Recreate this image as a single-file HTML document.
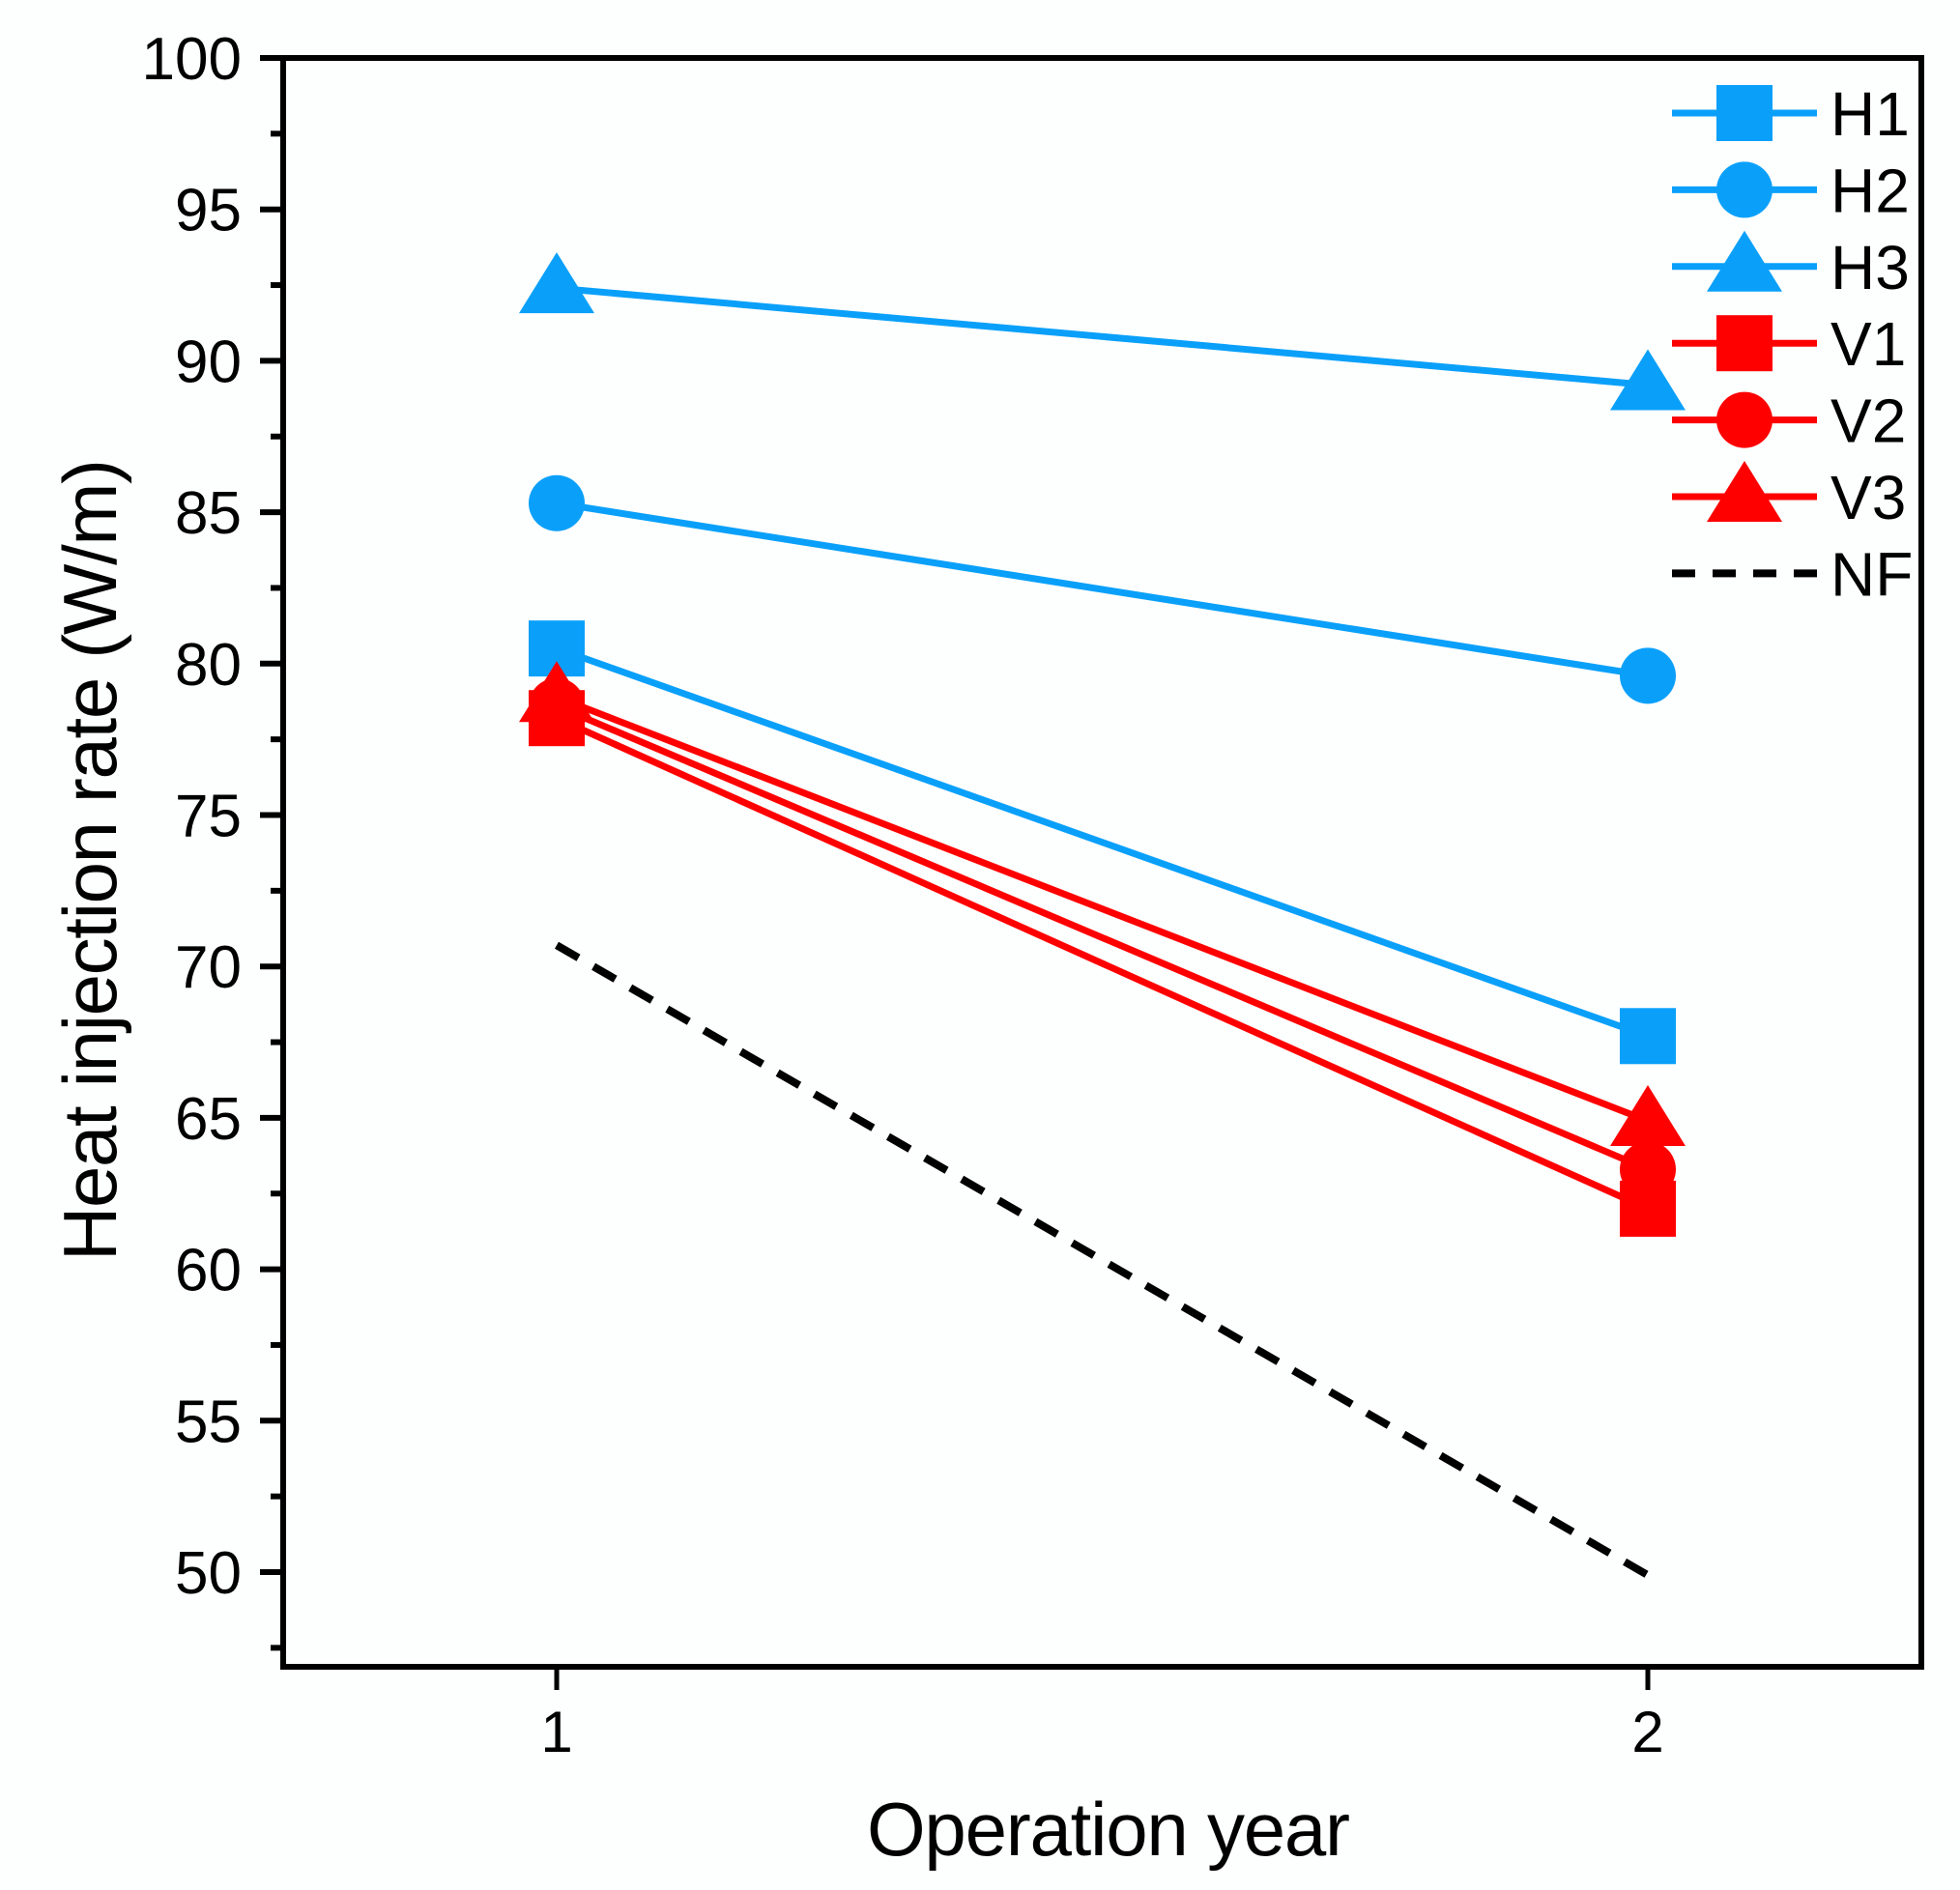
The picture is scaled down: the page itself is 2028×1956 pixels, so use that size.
<!DOCTYPE html>
<html><head><meta charset="utf-8"><style>
html,body{margin:0;padding:0;background:#fff}
svg{display:block;font-family:"Liberation Sans",Arial,sans-serif}
</style></head><body>
<svg id="chart" width="2028" height="1956" viewBox="0 0 2028 1956" xmlns="http://www.w3.org/2000/svg">
<rect x="0" y="0" width="2028" height="1956" fill="#fdfefe"/>
<g id="plot"></g>
<text x="1147" y="1920" font-size="78" text-anchor="middle" fill="#000" textLength="500">Operation year</text>
<text transform="translate(120,890) rotate(-90)" font-size="78" text-anchor="middle" fill="#000" textLength="830">Heat injection rate (W/m)</text>
</svg>
<script>
const categories = [1, 2];
const xTickLabels = ["1", "2"];
const yTickValues = [50, 55, 60, 65, 70, 75, 80, 85, 90, 95, 100];
const seriesNames = ["H1", "H2", "H3", "V1", "V2", "V3", "NF"];
const h1Values = [80.5, 67.7];
const h2Values = [85.3, 79.6];
const h3Values = [92.4, 89.2];
const v1Values = [78.2, 62.0];
const v2Values = [78.6, 63.3];
const v3Values = [78.9, 64.9];
const nfValues = [70.7, 49.9];

const NS = "http://www.w3.org/2000/svg";
const L = 293, R = 1988, T = 60, B = 1725;
const X0 = 576, X1 = 1705;
function xScale(c){ return X0 + (c - 1) * (X1 - X0); }
function yScale(v){ return T + (100 - v) * 31.34; }
const plot = document.getElementById('plot');
function mk(tag, attrs, parent){
  const e = document.createElementNS(NS, tag);
  for (const k in attrs) e.setAttribute(k, attrs[k]);
  (parent || plot).appendChild(e);
  return e;
}
const BLUE = "#0aa0fa", RED = "#ff0000";

for (let v = 47.5; v <= 100.01; v += 2.5) {
  const major = Math.abs(v / 5 - Math.round(v / 5)) < 1e-6;
  const t = mk('line', {x1: L - (major ? 24 : 13), x2: L, y1: yScale(v), y2: yScale(v), stroke: '#000', 'stroke-width': 6});
  
  
}
yTickValues.forEach(v => {
  const t = mk('text', {x: 250, y: yScale(v) + 22, 'font-size': 62, 'text-anchor': 'end', fill: '#000'});
  t.textContent = String(v);
  
  
});
categories.forEach((c, i) => {
  const t = mk('line', {x1: xScale(c), x2: xScale(c), y1: B, y2: B + 24, stroke: '#000', 'stroke-width': 5});
  
  
  const lb = mk('text', {x: xScale(c), y: 1813, 'font-size': 60, 'text-anchor': 'middle', fill: '#000'});
  lb.textContent = xTickLabels[i];
  
  
});

function marker(shape, cx, cy, color, name){
  let e;
  if (shape === 'square') e = mk('rect', {x: cx - 29, y: cy - 29, width: 58, height: 58, fill: color});
  else if (shape === 'circle') e = mk('circle', {cx: cx, cy: cy, r: 29, fill: color});
  else e = mk('polygon', {points: `${cx},${cy - 37} ${cx - 39},${cy + 26} ${cx + 39},${cy + 26}`, fill: color});
  
  
}

const nf = mk('line', {x1: xScale(categories[0]), y1: yScale(nfValues[0]), x2: xScale(categories[1]), y2: yScale(nfValues[1]), stroke: '#000', 'stroke-width': 8, 'stroke-dasharray': '26 18'});



const series = [
  {vals: h1Values, color: BLUE, shape: 'square', id: 'h1'},
  {vals: h2Values, color: BLUE, shape: 'circle', id: 'h2'},
  {vals: h3Values, color: BLUE, shape: 'triangle', id: 'h3'},
  {vals: v1Values, color: RED, shape: 'square', id: 'v1'},
  {vals: v2Values, color: RED, shape: 'circle', id: 'v2'},
  {vals: v3Values, color: RED, shape: 'triangle', id: 'v3'}
];
series.forEach(s => {
  const pts = categories.map((c, i) => xScale(c) + ',' + yScale(s.vals[i])).join(' ');
  const pl = mk('polyline', {points: pts, fill: 'none', stroke: s.color, 'stroke-width': 7});
  
  
});
series.forEach(s => {
  categories.forEach((c, i) => marker(s.shape, xScale(c), yScale(s.vals[i]), s.color, s.id + '-marker'));
});

const fr = mk('rect', {x: L, y: T, width: R - L, height: B - T, fill: 'none', stroke: '#000', 'stroke-width': 6});



const legend = mk('g', {});


const legendStyles = [
  [BLUE, 'square'], [BLUE, 'circle'], [BLUE, 'triangle'],
  [RED, 'square'], [RED, 'circle'], [RED, 'triangle'], ['#000', 'dash']
];
seriesNames.forEach((n, i) => {
  const y = 117 + i * 79.4;
  const [col, shp] = legendStyles[i];
  const ln = mk('line', {x1: 1730, x2: 1880, y1: y, y2: y, stroke: col, 'stroke-width': shp === 'dash' ? 8 : 7, 'stroke-dasharray': shp === 'dash' ? '24 18' : 'none'}, legend);
  
  
  if (shp !== 'dash') marker(shp, 1805, y, col, 'legend-marker-' + n.toLowerCase());
  const t = mk('text', {x: 1894, y: y + 23, 'font-size': 64, fill: '#000'}, legend);
  t.textContent = n;
  
  
});
</script>
</body></html>
